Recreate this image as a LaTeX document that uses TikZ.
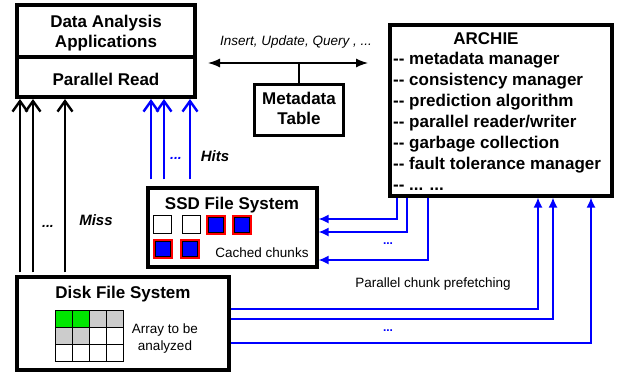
\documentclass[tikz,border=0pt]{standalone}
\usepackage{fontspec}
\setmainfont{Liberation Sans}
\usetikzlibrary{arrows.meta}
\definecolor{pblue}{RGB}{0,0,255}
\definecolor{pgreen}{RGB}{0,230,0}
\definecolor{pgray}{RGB}{204,204,204}
\tikzset{
  box/.style={draw=black, line width=3.2pt, inner sep=0pt},
  title/.style={font=\fontsize{17}{20}\selectfont\bfseries, align=center, inner sep=0pt},
  small/.style={font=\fontsize{13.5}{17}\selectfont, align=center, inner sep=0pt},
  item/.style={font=\fontsize{17}{20}\selectfont\bfseries, anchor=base west, inner sep=0pt},
  blk/.style={line width=2.4pt},
  bup/.style={draw=pblue, line width=2.4pt},
  vhead/.style={line width=2.4pt, line join=miter, line cap=butt},
  bthin/.style={draw=pblue, line width=1.4pt, -{Latex[length=10pt,width=9pt]}},
  dots/.style={font=\fontsize{14}{16}\selectfont\bfseries\itshape, inner sep=0pt},
  cell/.style={draw=black, line width=0.8pt},
}
\begin{document}
\begin{tikzpicture}[x=1pt,y=-1pt]
\useasboundingbox (0,0) rectangle (620,375);
% Data analysis box
\node[box, minimum width=178pt, minimum height=52pt] (dataA) at (106,31) {};
\node[title] (dataAt) at (106,33) {Data Analysis\\Applications};
\node[box, minimum width=178pt, minimum height=40pt] (pread) at (106,77) {};
\node[title] (preadt) at (106,79) {Parallel Read};
% Metadata table
\node[box, minimum width=89pt, minimum height=51pt] (meta) at (299,110) {};
\node[title] (metat) at (299,108) {Metadata\\Table};
% ARCHIE
\node[box, minimum width=222pt, minimum height=171pt] (archie) at (501,110.5) {};
\node[font=\fontsize{17}{20}\selectfont\bfseries, anchor=base, inner sep=0pt] (arct) at (486,44) {ARCHIE};
\node[item] (a1) at (393,64) {-{}- metadata manager};
\node[item] (a2) at (393,85) {-{}- consistency manager};
\node[item] (a3) at (393,106) {-{}- prediction algorithm};
\node[item] (a4) at (393,127) {-{}- parallel reader/writer};
\node[item] (a5) at (393,148) {-{}- garbage collection};
\node[item] (a6) at (393,169) {-{}- fault tolerance manager};
\node[item] (a7) at (393,190) {-{}- ... ...};
% SSD
\node[box, minimum width=169pt, minimum height=79pt] (ssd) at (232.5,227.5) {};
\node[title] (ssdt) at (232,205) {SSD File System};
\draw[cell, fill=white] (153,215) rectangle (171,233);
\draw[cell, fill=white] (182,215) rectangle (200,233);
\foreach \x/\y in {206/215, 232/215, 153/239, 180/239}{
  \fill[red] (\x,\y) rectangle ++(20,20);
  \draw[fill=pblue, line width=1pt] (\x+2,\y+2) rectangle ++(15,15);
}
\node[small] (cached) at (262,253) {Cached chunks};
% Disk
\node[box, minimum width=212pt, minimum height=93pt] (disk) at (123,323.5) {};
\node[title] (diskt) at (123,294) {Disk File System};
\foreach \c [count=\i from 0] in {pgreen,pgreen,pgray,pgray}{
  \draw[cell, fill=\c] (55+17*\i,310) rectangle ++(17,17);}
\foreach \c [count=\i from 0] in {pgray,pgray,white,white}{
  \draw[cell, fill=\c] (55+17*\i,327) rectangle ++(17,17);}
\foreach \i in {0,1,2,3}{
  \draw[cell, fill=white] (55+17*\i,344) rectangle ++(17,17);}
\node[small] (arr) at (165,339) {Array to be\\analyzed};
% Miss arrows (black)
\foreach \n/\x in {m1/20, m2/33, m3/65}{
  \coordinate (\n) at (\x,0);
  \draw[blk, shorten <=3pt, shorten >=2pt] (\n |- disk.north) -- (\n |- pread.south);
  \draw[vhead] ([shift={(-7.5,13)}]\n |- pread.south) -- ([shift={(0,2.5)}]\n |- pread.south) -- ([shift={(7.5,13)}]\n |- pread.south);
}
\node[dots] (mdots) at (48,226) {...};
\node[font=\fontsize{15}{18}\selectfont\bfseries\itshape, inner sep=0pt] (miss) at (96,220) {Miss};
% Hit arrows (blue)
\foreach \n/\x in {h1/151, h2/164, h3/190}{
  \coordinate (\n) at (\x,0);
  \draw[bup, shorten <=7pt, shorten >=2pt] (\n |- ssd.north) -- (\n |- pread.south);
  \draw[vhead, pblue] ([shift={(-7.5,13)}]\n |- pread.south) -- ([shift={(0,2.5)}]\n |- pread.south) -- ([shift={(7.5,13)}]\n |- pread.south);
}
\node[dots, text=pblue] (hdots) at (176,158) {...};
\node[font=\fontsize{15}{18}\selectfont\bfseries\itshape, inner sep=0pt] (hits) at (215,156) {Hits};
% Insert/update/query
\coordinate (ia) at (208,63);
\coordinate (ib) at (368,63);
\draw[line width=1.3pt, {Latex[length=12pt,width=9pt]}-{Latex[length=12pt,width=9pt]}] (ia) -- (ib);
\draw[line width=1.3pt] (meta.north) -- (meta.north |- ia);
\node[font=\fontsize{13.5}{16}\selectfont\itshape, inner sep=0pt] (iuq) at (296,42) {Insert, Update, Query , ...};
% ARCHIE -> SSD
\foreach \n/\x/\y in {s1/397/219, s2/407/232, s3/428/260}{
  \coordinate (\n) at (\x,\y);
  \draw[bthin] (archie.south -| \n) |- (ssd.east |- \n);
}
\node[dots, text=pblue, font=\fontsize{12}{14}\selectfont\bfseries] (sdots) at (388,244) {...};
% Disk -> ARCHIE
\foreach \n/\x/\y in {d1/538/309, d2/553/319, d3/591/343}{
  \coordinate (\n) at (\x,\y);
  \draw[bthin] (disk.east |- \n) -| (archie.south -| \n);
}
\node[dots, text=pblue, font=\fontsize{12}{14}\selectfont\bfseries] (ddots) at (388,331) {...};
\node[small] (pcp) at (433,284) {Parallel chunk prefetching};
\end{tikzpicture}
\end{document}
